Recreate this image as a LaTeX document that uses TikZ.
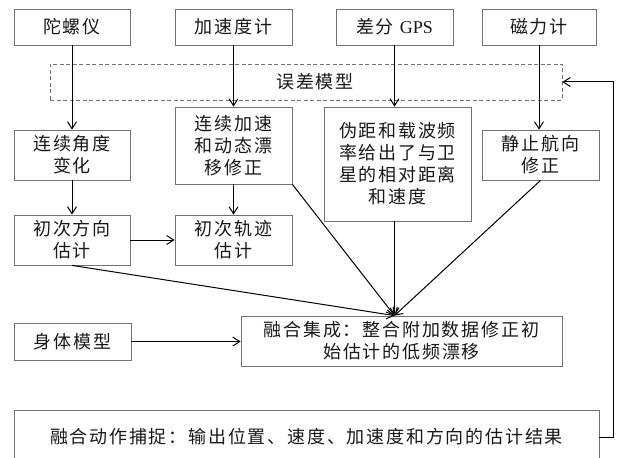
\documentclass[tikz,border=0pt]{standalone}
\usepackage{fontspec}
\setmainfont{Liberation Serif}
\newfontfamily\cjk[LetterSpace=10]{Noto Sans CJK SC}
\usetikzlibrary{arrows.meta}
\tikzset{
  box/.style={draw=black!55, line width=0.8pt, inner sep=0pt, align=center,
    font=\cjk\fontsize{18}{22}\selectfont, text=black!90},
  errbox/.style={draw=black!55, dashed, dash pattern=on 4pt off 2.5pt, line width=0.8pt, inner sep=0pt},
  conn/.style={draw=black, line width=1pt, -{Straight Barb[length=7pt,width=9pt,line width=1pt]}},
}
\begin{document}
\begin{tikzpicture}[x=1pt,y=-1pt]
\useasboundingbox (0,0) rectangle (617,457);
\fill[white] (0,0) rectangle (617,457);
% top row
\node[box, minimum width=116pt, minimum height=36pt] (gyro) at (72,27) {陀螺仪};
\node[box, minimum width=117pt, minimum height=36pt] (acc) at (233.5,27) {加速度计};
\node[box, minimum width=117pt, minimum height=36pt] (gps) at (394.5,27) {差分 {\rmfamily GPS}};
\node[box, minimum width=114pt, minimum height=36pt] (mag) at (539,27) {磁力计};
% error model
\node[errbox, minimum width=512pt, minimum height=36pt] (err) at (306,82) {};
\node[font=\cjk\fontsize{18}{22}\selectfont, text=black!90, inner sep=0pt] (errlabel) at (315,82) {误差模型};
% second row
\node[box, minimum width=116pt, minimum height=50pt] (cang) at (72,155) {连续角度\\变化};
\node[box, minimum width=117pt, minimum height=77pt] (cacc) at (233.5,145.5) {连续加速\\和动态漂\\移修正};
\node[box, minimum width=147pt, minimum height=114pt] (pseudo) at (397.5,164) {伪距和载波频\\率给出了与卫\\星的相对距离\\和速度};
\node[box, minimum width=117pt, minimum height=50pt] (still) at (540.5,155) {静止航向\\修正};
% third row
\node[box, minimum width=116pt, minimum height=50pt] (idir) at (72,240) {初次方向\\估计};
\node[box, minimum width=117pt, minimum height=50pt] (itraj) at (233.5,240) {初次轨迹\\估计};
% fusion row
\node[box, minimum width=117pt, minimum height=37pt] (body) at (72.5,341.5) {身体模型};
\node[box, minimum width=321pt, minimum height=50pt] (fuse) at (401.5,341) {融合集成：整合附加数据修正初\\始估计的低频漂移};
% output
\node[box, minimum width=585pt, minimum height=54pt] (out) at (306.5,437) {融合动作捕捉：输出位置、速度、加速度和方向的估计结果};
\coordinate (conv) at (gps.south |- fuse.north);
% connectors
\draw[conn] (gyro.south) -- (gyro.south |- cang.north);
\draw[conn] (acc.south) -- (acc.south |- cacc.north);
\draw[conn] (gps.south) -- (gps.south |- pseudo.north);
\draw[conn] (mag.south) -- (mag.south |- still.north);
\draw[conn] (cang.south) -- (idir.north);
\draw[conn] (cacc.south) -- (itraj.north);
\draw[conn] (idir.east) -- (itraj.west);
\draw[conn] (idir.south) -- (conv);
\draw[conn] (cacc.south east) -- (conv);
\draw[conn] (gps.south |- pseudo.south) -- (conv);
\draw[conn] (still.south) -- (conv);
\draw[conn] (body.east) -- (body.east -| fuse.west);
\draw[conn] (out.east) -- ++(14,0) |- (err.east);
\end{tikzpicture}
\end{document}
